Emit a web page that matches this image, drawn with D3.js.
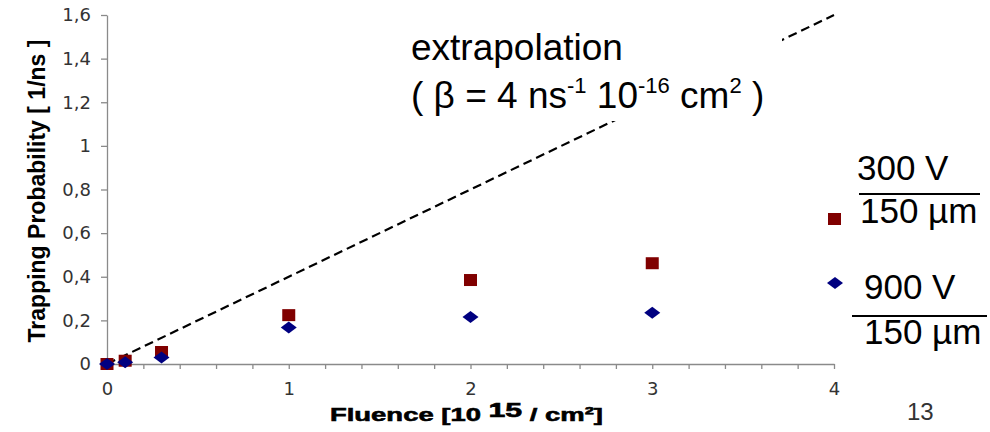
<!DOCTYPE html>
<html>
<head>
<meta charset="utf-8">
<script src="https://cdn.jsdelivr.net/npm/d3@7"></script>
<style>
  body { margin: 0; background: #fff; }
  svg { display: block; }
</style>
</head>
<body>
<div id="chart"></div>
<script>
// data
const fluence = [0, 0.1, 0.3, 1, 2, 3];
const trap300V = [0, 0.015, 0.055, 0.224, 0.385, 0.462];
const trap900V = [0, 0.008, 0.03, 0.167, 0.215, 0.235];
const extrapX = [0, 4];
const extrapY = [0, 1.6];
const yTickValues = [0, 0.2, 0.4, 0.6, 0.8, 1, 1.2, 1.4, 1.6];
const xTickValues = [0, 1, 2, 3, 4];

const width = 990, height = 432;
const margin = ({top: 15, right: 156, bottom: 68, left: 107});

const svg = d3.select("#chart").append("svg")
    .attr("width", width)
    .attr("height", height)
    .attr("viewBox", [0, 0, width, height]);

const x = d3.scaleLinear().domain([0, 4]).range([margin.left, width - margin.right]);
const y = d3.scaleLinear().domain([0, 1.6]).range([height - margin.bottom, margin.top]);

const fmt = d => String(d).replace(".", ",");

// y axis
const yAxis = g => g
    .attr("transform", `translate(${margin.left},0)`)
    .call(d3.axisLeft(y).tickValues(yTickValues).tickSize(6).tickPadding(10).tickFormat(fmt).tickSizeOuter(0))
    .call(g => g.selectAll("path, line").attr("stroke", "#8a8a8a").attr("stroke-width", 1.3))
    .call(g => g.selectAll("text")
        .style("font-family", "DejaVu Sans")
        .style("font-size", "18px")
        .attr("fill", "#333"));

// x axis, minor ticks every 0.2
const xAxis = g => g
    .attr("transform", `translate(0,${y(0)})`)
    .call(d3.axisBottom(x).tickValues(d3.range(0, 21).map(i => i / 5)).tickSize(5).tickSizeOuter(0)
        .tickFormat(d => xTickValues.includes(d) ? d : ""))
    .call(g => g.selectAll("path, line").attr("stroke", "#8a8a8a").attr("stroke-width", 1.3))
    .call(g => g.selectAll("text")
        .attr("dy", "1.3em")
        .style("font-family", "DejaVu Sans")
        .style("font-size", "18px")
        .attr("fill", "#333"));

svg.append("g").call(yAxis);
svg.append("g").call(xAxis);

// extrapolation line
const line = d3.line().x(d => x(d[0])).y(d => y(d[1]));
svg.append("path")
    .datum(d3.zip(extrapX, extrapY))
    .attr("fill", "none")
    .attr("stroke", "#000")
    .attr("stroke-width", 2.2)
    .attr("stroke-dasharray", "9,5")
    .attr("d", line);

// white box behind the annotation hides part of the line
svg.append("rect")
    .attr("x", 402).attr("y", 22)
    .attr("width", 380).attr("height", 99)
    .attr("fill", "#fff");

const note = svg.append("g")
    .attr("font-family", "Liberation Sans, Arial, sans-serif")
    .attr("fill", "#000");

note.append("text")
    .attr("x", 411).attr("y", 60)
    .attr("font-size", 37)
    .text("extrapolation");

const t2 = note.append("text")
    .attr("x", 411).attr("y", 108)
    .attr("font-size", 37);
t2.append("tspan").text("( \u03b2 = 4 ns");
t2.append("tspan").attr("font-size", 22).attr("dy", -15).text("-1");
t2.append("tspan").attr("dy", 15).text(" 10");
t2.append("tspan").attr("font-size", 22).attr("dy", -15).text("-16");
t2.append("tspan").attr("dy", 15).text(" cm");
t2.append("tspan").attr("font-size", 22).attr("dy", -15).text("2");
t2.append("tspan").attr("dy", 15).text(" )");

// data points
svg.append("g")
    .attr("fill", "#800000")
    .selectAll("rect")
    .data(d3.zip(fluence, trap300V))
    .join("rect")
    .attr("x", d => x(d[0]) - 6.5)
    .attr("y", d => y(d[1]) - 6)
    .attr("width", 13)
    .attr("height", 12);

const diamond = "M0,-6L8,0L0,6L-8,0Z";
svg.append("g")
    .attr("fill", "#000080")
    .selectAll("path")
    .data(d3.zip(fluence, trap900V))
    .join("path")
    .attr("transform", d => `translate(${x(d[0])},${y(d[1])})`)
    .attr("d", diamond);

// axis titles
svg.append("text")
    .attr("transform", "translate(45,191) rotate(-90)")
    .attr("text-anchor", "middle")
    .attr("font-family", "Liberation Sans, Arial, sans-serif")
    .attr("font-weight", "bold")
    .attr("font-size", 23)
    .text("Trapping Probability [ 1/ns ]");

const xl = svg.append("text")
    .attr("x", 330).attr("y", 421)
    .attr("font-family", "Liberation Sans, Arial, sans-serif")
    .attr("font-weight", "bold")
    .attr("font-size", 19)
    .attr("stroke", "#000")
    .attr("stroke-width", 0.6)
    .attr("textLength", 273)
    .attr("lengthAdjust", "spacingAndGlyphs");
xl.append("tspan").text("Fluence [10 ");
xl.append("tspan").attr("dy", -4).attr("font-size", 21).text("15");
xl.append("tspan").attr("dy", 4).text(" / cm\u00b2]");

// legend
const legend = svg.append("g")
    .attr("font-family", "Liberation Sans, Arial, sans-serif")
    .attr("font-size", 35)
    .attr("fill", "#000");

legend.append("rect")
    .attr("x", 828).attr("y", 213)
    .attr("width", 13).attr("height", 12)
    .attr("fill", "#800000");
legend.append("text").attr("x", 857).attr("y", 180).text("300 V");
legend.append("line")
    .attr("x1", 859).attr("x2", 980).attr("y1", 194).attr("y2", 194)
    .attr("stroke", "#000").attr("stroke-width", 2);
legend.append("text").attr("x", 860).attr("y", 223).text("150 \u00b5m");

legend.append("path")
    .attr("transform", "translate(835,283)")
    .attr("d", diamond)
    .attr("fill", "#000080");
legend.append("text").attr("x", 864).attr("y", 299).text("900 V");
legend.append("line")
    .attr("x1", 852).attr("x2", 987).attr("y1", 316).attr("y2", 316)
    .attr("stroke", "#000").attr("stroke-width", 2);
legend.append("text").attr("x", 864).attr("y", 344).text("150 \u00b5m");

// slide number
svg.append("text")
    .attr("x", 907).attr("y", 420)
    .attr("font-family", "Liberation Sans, Arial, sans-serif")
    .attr("font-size", 24)
    .attr("fill", "#333")
    .text("13");
</script>
</body>
</html>
